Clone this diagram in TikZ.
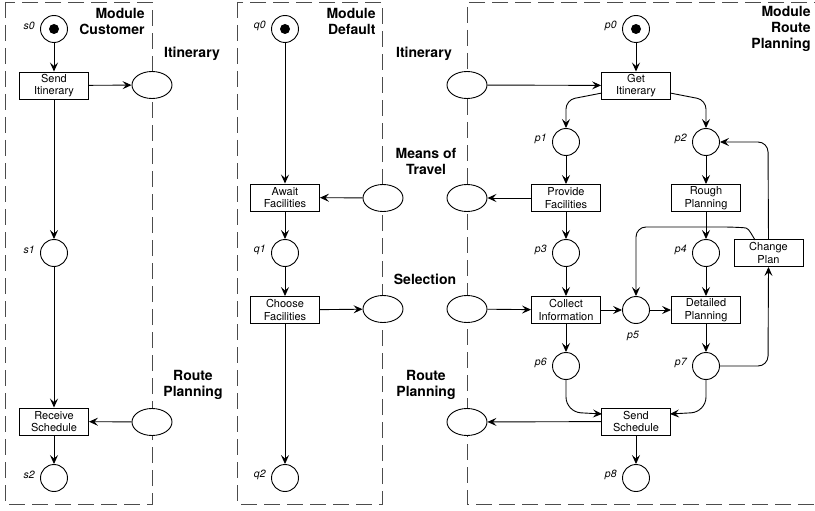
\documentclass[tikz,border=0pt]{standalone}
\usepackage{fontspec}
\setmainfont{TeX Gyre Heros}
\usetikzlibrary{shapes.geometric,arrows.meta,calc}
\begin{document}
\begin{tikzpicture}[x=1pt,y=-1pt,
  line width=0.9pt,
  arr/.style={-{Stealth[length=9pt,width=8pt,inset=3.5pt]}},
  place/.style={circle,draw,minimum size=27pt,inner sep=0pt},
  plab/.style={font=\fontsize{10.5}{12}\selectfont\itshape,inner sep=1pt,label distance=4pt,anchor=east,yshift=3pt},
  trans/.style={rectangle,draw,fill=white,minimum width=69pt,minimum height=27pt,inner sep=1pt,align=center,font=\fontsize{11}{12.5}\selectfont},
  chan/.style={ellipse,draw,fill=white,minimum width=40pt,minimum height=27pt,inner sep=0pt},
  modlab/.style={font=\fontsize{14}{16}\selectfont\bfseries,align=right,inner sep=0pt},
  chanlab/.style={font=\fontsize{14}{16}\selectfont\bfseries,align=center,inner sep=0pt},
  modbox/.style={draw=black!70,dash pattern=on 16pt off 7pt,line width=0.9pt},
  token/.style={circle,fill=black,minimum size=10pt,inner sep=0pt}
]
\useasboundingbox (0,0) rectangle (815,511);
% module boxes
\draw[modbox] (5,2) rectangle (152,504);
\draw[modbox] (237,2) rectangle (382,504);
\draw[modbox] (830,2) -- (467,2) -- (467,504) -- (830,504);
% module labels
\node[modlab,anchor=east] (mc) at (145,21) {Module\\Customer};
\node[modlab,anchor=east] (md) at (376,21) {Module\\Default};
\node[modlab,anchor=east] (mr) at (811,29) {Module\\Route\\Planning};
% channel labels
\node[chanlab] (l1) at (192,54) {Itinerary};
\node[chanlab] (l2) at (193,385) {Route\\Planning};
\node[chanlab] (l3) at (424,54) {Itinerary};
\node[chanlab] (l4) at (426,161) {Means of\\Travel};
\node[chanlab] (l5) at (425,279) {Selection};
\node[chanlab] (l6) at (426,385) {Route\\Planning};
% channels
\node[chan] (cItin) at (152,85) {};
\node[chan] (cRoute) at (152,422) {};
\node[chan] (dMeans) at (383,198) {};
\node[chan] (dSel) at (383,309) {};
\node[chan] (rItin) at (467,85) {};
\node[chan] (rMeans) at (467,198) {};
\node[chan] (rSel) at (467,309) {};
\node[chan] (rRoute) at (467,422) {};
% Customer
\node[place,label={[plab]180:s0}] (s0) at (54,29) {};
\node[token] (t0) at (s0) {};
\node[trans] (sendIt) at (54,85.5) {Send\\Itinerary};
\node[place,label={[plab]180:s1}] (s1) at (54,253) {};
\node[trans] (recv) at (54,421.5) {Receive\\Schedule};
\node[place,label={[plab]180:s2}] (s2) at (54,478) {};
\draw[arr] (s0) -- (sendIt);
\draw[arr] (sendIt) -- (s1);
\draw[arr] (s1) -- (recv);
\draw[arr] (recv) -- (s2);
\draw[arr] (sendIt) -- (cItin);
\draw[arr] (cRoute) -- (recv);
% Default
\node[place,label={[plab]180:q0}] (q0) at (285,29) {};
\node[token] (t1) at (q0) {};
\node[trans] (await) at (285,197.5) {Await\\Facilities};
\node[place,label={[plab]180:q1}] (q1) at (285,253) {};
\node[trans] (choose) at (285,310) {Choose\\Facilities};
\node[place,label={[plab]180:q2}] (q2) at (285,478) {};
\draw[arr] (q0) -- (await);
\draw[arr] (await) -- (q1);
\draw[arr] (q1) -- (choose);
\draw[arr] (choose) -- (q2);
\draw[arr] (dMeans) -- (await);
\draw[arr] (choose) -- (dSel);
% Route Planning
\node[place,label={[plab]180:p0}] (p0) at (636,29) {};
\node[token] (t2) at (p0) {};
\node[trans] (get) at (636,85.5) {Get\\Itinerary};
\node[place,label={[plab]180:p1}] (p1) at (566,142) {};
\node[place,label={[plab]180:p2}] (p2) at (706,142) {};
\node[trans] (provide) at (566,198) {Provide\\Facilities};
\node[trans] (rough) at (706,198) {Rough\\Planning};
\node[place,label={[plab]180:p3}] (p3) at (566,253) {};
\node[place,label={[plab]180:p4}] (p4) at (706,253) {};
\node[trans] (change) at (768.5,253) {Change\\Plan};
\node[trans] (collect) at (566,310) {Collect\\Information};
\node[place,label={[plab,anchor=north,yshift=-5pt,xshift=-3pt]270:p5}] (p5) at (636,310) {};
\node[trans] (detailed) at (706,310) {Detailed\\Planning};
\node[place,label={[plab]180:p6}] (p6) at (566,366) {};
\node[place,label={[plab]180:p7}] (p7) at (706,366) {};
\node[trans] (sendSch) at (636,421.5) {Send\\Schedule};
\node[place,label={[plab]180:p8}] (p8) at (636,478) {};
\coordinate (gw) at (602,93);
\coordinate (ge) at (670,93);
\draw[arr] (p0) -- (get);
\draw[arr] (rItin) -- (get);
\draw[arr,rounded corners=9pt] (gw) -- (566,100) -- (p1.north);
\draw[arr,rounded corners=9pt] (ge) -- (706,100) -- (p2.north);
\draw[arr] (p1) -- (provide);
\draw[arr] (p2) -- (rough);
\draw[arr] (provide) -- (rMeans);
\draw[arr] (provide) -- (p3);
\draw[arr] (rough) -- (p4);
\draw[arr] (p3) -- (collect);
\draw[arr] (p4) -- (detailed);
\draw[arr] (rSel) -- (collect);
\draw[arr] (collect) -- (p5);
\draw[arr] (p5) -- (detailed);
\draw[arr] (collect) -- (p6);
\draw[arr] (detailed) -- (p7);
\draw[arr,rounded corners=10pt] (change.north) -- (768,142) -- (p2.east);
\coordinate (cn) at (755,240);
\draw[arr,rounded corners=10pt] (cn) .. controls (748,228) .. (733,227) -- (636,227) -- (p5.north);
\draw[arr,rounded corners=10pt] (p7.east) -- (768,366) -- (change.south);
\coordinate (sw) at (602,414);
\coordinate (se) at (670,414);
\draw[arr,rounded corners=15pt] (p6.south) -- (566,412) -- (sw);
\draw[arr,rounded corners=15pt] (p7.south) -- (706,412) -- (se);
\draw[arr] (sendSch) -- (rRoute);
\draw[arr] (sendSch) -- (p8);
\end{tikzpicture}
\end{document}
